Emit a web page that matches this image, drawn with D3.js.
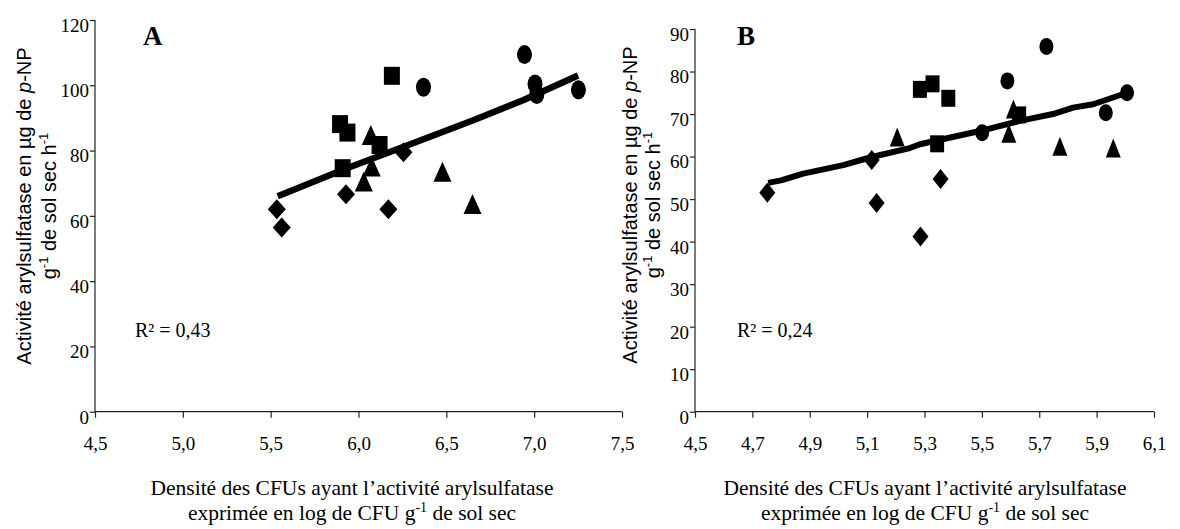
<!DOCTYPE html>
<html>
<head>
<meta charset="utf-8">
<script src="https://cdn.jsdelivr.net/npm/d3@7"></script>
<style>
  html, body { margin: 0; padding: 0; background: #fff; }
  svg { display: block; }
  .serif { font-family: "Liberation Serif", "Times New Roman", serif; fill: #000; }
  .sans { font-family: "Liberation Sans", Arial, sans-serif; fill: #000; }
</style>
</head>
<body>
<svg id="chart" width="1180" height="529"></svg>
<script>
// ---------- DATA ----------
// Panel A : x = log CFU g-1, y = activité arylsulfatase
const xTicksA = [4.5, 5.0, 5.5, 6.0, 6.5, 7.0, 7.5];
const yTicksA = [0, 20, 40, 60, 80, 100, 120];
const diamondsA  = [[5.535, 62.0], [5.563, 56.4], [5.929, 66.6], [6.170, 62.0], [6.256, 79.5]];
const squaresA   = [[5.895, 88.1], [5.937, 85.5], [5.910, 74.6], [6.120, 81.7], [6.190, 102.9]];
const trianglesA = [[6.070, 84.8], [6.075, 75.1], [6.030, 70.5], [6.478, 73.5], [6.649, 63.6]];
const circlesA   = [[6.370, 99.4], [6.945, 109.4], [7.005, 100.4], [7.015, 97.2], [7.252, 98.6]];
const trendA     = [[5.54, 66.0], [5.93, 74.5], [6.25, 81.0], [6.65, 89.2], [6.94, 95.5], [7.25, 103.0]];
const r2A = "R² = 0,43";

// Panel B
const xTicksB = [4.5, 4.7, 4.9, 5.1, 5.3, 5.5, 5.7, 5.9, 6.1];
const yTicksB = [0, 10, 20, 30, 40, 50, 60, 70, 80, 90];
const diamondsB  = [[4.752, 51.5], [5.116, 59.2], [5.133, 49.1], [5.356, 54.7], [5.286, 41.2]];
const squaresB   = [[5.284, 75.8], [5.328, 77.1], [5.383, 73.7], [5.344, 63.0], [5.630, 69.8]];
const trianglesB = [[5.205, 64.6], [5.594, 65.5], [5.772, 62.4], [5.958, 62.0], [5.610, 71.2]];
const circlesB   = [[5.725, 85.9], [5.589, 77.8], [5.501, 65.6], [5.932, 70.3], [6.006, 75.0]];
const trendB     = [[4.755, 53.8], [4.80, 54.4], [4.877, 56.0], [5.017, 58.0], [5.116, 59.9], [5.249, 62.0],
                    [5.284, 62.9], [5.493, 66.0], [5.632, 68.4], [5.748, 70.0], [5.818, 71.5], [5.888, 72.3], [6.006, 75.0]];
const r2B = "R² = 0,24";

// ---------- DRAWING ----------
const svg = d3.select("#chart");
const fmt = d => d.toFixed(1).replace(".", ",");

const shapes = {
  diamond: (w, h) => `M0,${-h/2}L${w/2},0L0,${h/2}L${-w/2},0Z`,
  square: (w, h) => `M${-w/2},${-h/2}H${w/2}V${h/2}H${-w/2}Z`,
  triangle: (w, h) => `M0,${-h/2}L${w/2},${h/2}L${-w/2},${h/2}Z`
};

function drawPanel(p) {
  const g = svg.append("g");
  const x = d3.scaleLinear().domain(p.xDomain).range([p.left, p.right]);
  const y = d3.scaleLinear().domain(p.yDomain).range([p.bottom, p.top]);

  // y axis
  const ya = g.append("g").attr("transform", `translate(${p.left},0)`)
    .call(d3.axisLeft(y).tickValues(p.yTicks).tickSize(5).tickPadding(1).tickFormat(d3.format("d")));
  ya.selectAll("text").attr("class", "serif").attr("dy", "0.6em").style("font-size", "19px");
  // x axis
  const xa = g.append("g").attr("transform", `translate(0,${p.bottom})`)
    .call(d3.axisBottom(x).tickValues(p.xTicks).tickSize(6).tickFormat(fmt));
  xa.selectAll("text").attr("class", "serif").attr("y", 38).attr("dy", 0).style("font-size", "19px");
  g.selectAll(".domain").attr("stroke", "#222").attr("stroke-width", 1.2);
  g.selectAll(".tick line").attr("stroke", "#222").attr("stroke-width", 1.2);
  g.selectAll(".domain").attr("d", function () {
    return this.parentNode === ya.node()
      ? `M0,${p.bottom}V${p.top}`
      : `M${p.left},0H${p.right}`;
  });

  // trend line
  g.append("path").datum(p.trend)
    .attr("d", d3.line().x(d => x(d[0])).y(d => y(d[1])))
    .attr("fill", "none").attr("stroke", "#000").attr("stroke-width", p.lineW)
    .attr("stroke-linejoin", "round");

  // markers
  const m = p.marker;
  const put = (data, fn) => g.append("g").selectAll("path").data(data).join("path")
    .attr("transform", d => `translate(${x(d[0])},${y(d[1])})`)
    .attr("d", fn).attr("fill", "#000");
  put(p.diamonds, () => shapes.diamond(m.dw, m.dh));
  put(p.squares, () => shapes.square(m.sw, m.sh));
  put(p.triangles, () => shapes.triangle(m.tw, m.th));
  g.append("g").selectAll("ellipse").data(p.circles).join("ellipse")
    .attr("cx", d => x(d[0])).attr("cy", d => y(d[1]))
    .attr("rx", m.cw / 2).attr("ry", m.ch / 2).attr("fill", "#000");

  // panel letter
  g.append("text").attr("class", "serif").attr("x", p.letterX).attr("y", 45)
    .style("font-size", "27px").style("font-weight", "bold").text(p.letter);
  // R²
  g.append("text").attr("class", "serif").attr("x", p.r2X).attr("y", 337)
    .style("font-size", "20px").text(p.r2);

  // y title (rotated)
  const yt = g.append("g").attr("transform", `translate(0,${p.yTitleY}) rotate(-90)`);
  const l1 = yt.append("text").attr("class", "sans").attr("text-anchor", "middle")
    .attr("x", 0).attr("y", p.yTitleX1).style("font-size", "20px");
  l1.append("tspan").text("Activité arylsulfatase en µg de ");
  l1.append("tspan").style("font-style", "italic").text("p");
  l1.append("tspan").text("-NP");
  const l2 = yt.append("text").attr("class", "sans").attr("text-anchor", "middle")
    .attr("x", 0).attr("y", p.yTitleX2).style("font-size", "20px");
  l2.append("tspan").text("g");
  l2.append("tspan").attr("dy", -8).style("font-size", "13px").text("-1");
  l2.append("tspan").attr("dy", 8).text(" de sol sec h");
  l2.append("tspan").attr("dy", -8).style("font-size", "13px").text("-1");

  // x title
  const cx = p.xTitleX;
  g.append("text").attr("class", "serif").attr("text-anchor", "middle")
    .attr("x", cx).attr("y", 495).style("font-size", "21.5px")
    .text("Densité des CFUs ayant l’activité arylsulfatase");
  const t2 = g.append("text").attr("class", "serif").attr("text-anchor", "middle")
    .attr("x", cx).attr("y", 520).style("font-size", "21.5px");
  t2.append("tspan").text("exprimée en log de CFU g");
  t2.append("tspan").attr("dy", -8).style("font-size", "14px").text("-1");
  t2.append("tspan").attr("dy", 8).text(" de sol sec");
}

drawPanel({
  xDomain: [4.5, 7.5], yDomain: [0, 120], left: 95, right: 622, top: 20, bottom: 411.7,
  xTicks: xTicksA, yTicks: yTicksA, diamonds: diamondsA, squares: squaresA, triangles: trianglesA,
  circles: circlesA, trend: trendA, r2: r2A, letter: "A", letterX: 143, r2X: 135,
  yTitleY: 206, yTitleX1: -(-31) , yTitleX2: 56, xTitleX: 352,
  lineW: 6.5,
  marker: { dw: 18, dh: 20, sw: 16, sh: 18, tw: 18, th: 20, cw: 15, ch: 19 }
});
drawPanel({
  xDomain: [4.5, 6.1], yDomain: [0, 90], left: 695, right: 1154, top: 29, bottom: 411.7,
  xTicks: xTicksB, yTicks: yTicksB, diamonds: diamondsB, squares: squaresB, triangles: trianglesB,
  circles: circlesB, trend: trendB, r2: r2B, letter: "B", letterX: 737, r2X: 737,
  yTitleY: 205, yTitleX1: 637, yTitleX2: 660, xTitleX: 925,
  lineW: 6,
  marker: { dw: 16, dh: 20, sw: 14, sh: 17, tw: 15, th: 19, cw: 14, ch: 17 }
});
</script>
</body>
</html>
